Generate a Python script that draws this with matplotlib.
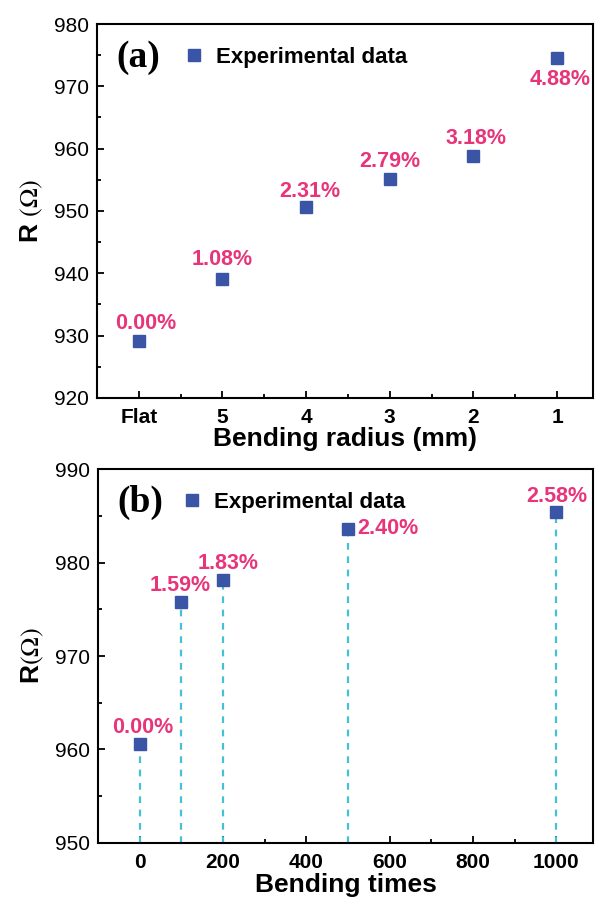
import numpy as np
import matplotlib
matplotlib.use("Agg")
import matplotlib.pyplot as plt
from matplotlib.ticker import MultipleLocator

plt.rcParams['font.family'] = ['Liberation Sans', 'DejaVu Sans']
plt.rcParams['mathtext.fontset'] = 'stix'

# panel (a): resistance vs bending radius
radius_labels = ["Flat", "5", "4", "3", "2", "1"]
r_radius = [929.2, 939.1, 950.6, 955.1, 958.8, 974.5]
pct_radius = ["0.00%", "1.08%", "2.31%", "2.79%", "3.18%", "4.88%"]

# panel (b): resistance vs bending times
bend_times = [0, 100, 200, 500, 1000]
r_times = [960.6, 975.8, 978.1, 983.6, 985.4]
pct_times = ["0.00%", "1.59%", "1.83%", "2.40%", "2.58%"]

blue = '#3a55a5'
pink = '#e8357a'
cyan = '#45c0d6'

fig = plt.figure(figsize=(5.98, 8.99), dpi=100)
ax1 = fig.add_axes([0.1622, 0.5573, 0.8294, 0.416])
ax2 = fig.add_axes([0.1639, 0.0623, 0.8278, 0.416])


def style(ax):
    for s in ax.spines.values():
        s.set_linewidth(1.5)
    ax.tick_params(which='both', direction='in', width=1.3, labelsize=15, pad=6)
    ax.tick_params(which='major', length=5)
    ax.tick_params(which='minor', length=3)
    ax.tick_params(axis='x', pad=7)
    ax.yaxis.set_minor_locator(MultipleLocator(5))


# ---- (a)
xa = np.arange(len(radius_labels))
ax1.plot(xa, r_radius, 's', color=blue, ms=9, label="Experimental data")
ax1.set_xlim(-0.5, 5.43)
ax1.set_ylim(920, 980)
ax1.set_xticks(xa)
ax1.set_xticklabels(radius_labels, fontweight='bold')
ax1.xaxis.set_minor_locator(MultipleLocator(0.5))
ax1.yaxis.set_major_locator(MultipleLocator(10))
style(ax1)
offs_a = [(5, 12), (0, 14), (3, 11), (0, 13), (2, 13), (2, -15)]
for x, y, t, o in zip(xa, r_radius, pct_radius, offs_a):
    ax1.annotate(t, (x, y), xytext=o, textcoords='offset points', ha='center',
                 va='center', color=pink, fontsize=15.5, fontweight='bold')
ax1.set_xlabel("Bending radius (mm)", fontsize=19, fontweight='bold', labelpad=0)
ax1.set_ylabel(r"R $(\Omega)$", fontsize=19, fontweight='bold', labelpad=6)
ax1.text(0.04, 0.91, "(a)", transform=ax1.transAxes, family='Liberation Serif',
         fontsize=27, fontweight='bold', va='center')
ax1.legend(loc='center left', bbox_to_anchor=(0.155, 0.91), frameon=False,
           prop={'weight': 'bold', 'size': 16}, handletextpad=0.5,
           borderaxespad=0, handlelength=1)

# ---- (b)
ax2.vlines(bend_times, 950, r_times, colors=cyan, linestyles=(0, (3, 3)), lw=1.6)
ax2.plot(bend_times, r_times, 's', color=blue, ms=9, label="Experimental data")
ax2.set_xlim(-100, 1088)
ax2.set_ylim(950, 990)
ax2.xaxis.set_major_locator(MultipleLocator(200))
ax2.xaxis.set_minor_locator(MultipleLocator(100))
ax2.yaxis.set_major_locator(MultipleLocator(10))
style(ax2)
for lab in ax2.get_xticklabels():
    lab.set_fontweight('bold')
offs_b = [(2, 12), (-1, 12), (4, 12), (7, 0), (0, 11)]
has = ['center', 'center', 'center', 'left', 'center']
for x, y, t, o, h in zip(bend_times, r_times, pct_times, offs_b, has):
    ax2.annotate(t, (x, y), xytext=o, textcoords='offset points', ha=h,
                 va='center', color=pink, fontsize=15.5, fontweight='bold')
ax2.set_xlabel("Bending times", fontsize=19, fontweight='bold', labelpad=1)
ax2.set_ylabel(r"R$(\Omega)$", fontsize=19, fontweight='bold', labelpad=6)
ax2.text(0.04, 0.91, "(b)", transform=ax2.transAxes, family='Liberation Serif',
         fontsize=27, fontweight='bold', va='center')
ax2.legend(loc='center left', bbox_to_anchor=(0.15, 0.91), frameon=False,
           prop={'weight': 'bold', 'size': 16}, handletextpad=0.5,
           borderaxespad=0, handlelength=1)

fig.savefig("out.png", dpi=100)
